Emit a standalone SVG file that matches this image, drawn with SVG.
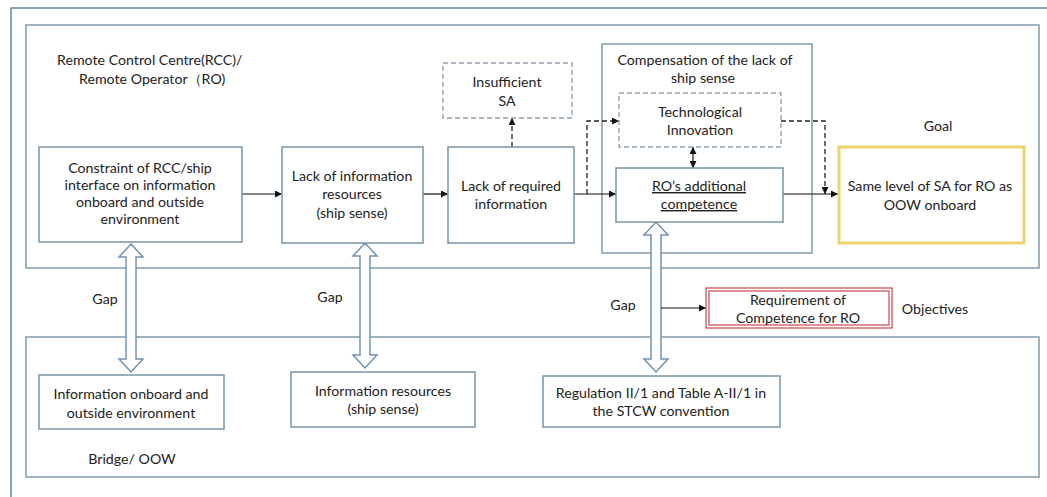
<svg xmlns="http://www.w3.org/2000/svg" width="1047" height="497" viewBox="0 0 1047 497">
  <defs>
    <style>
      .frame { fill: none; stroke: #5f87a8; stroke-width: 1.5; }
      .panel { fill: none; stroke: #7f9aa8; stroke-width: 1.5; }
      .box { fill: #ffffff; stroke: #7894a6; stroke-width: 1.5; }
      .dbox { fill: #ffffff; stroke: #8a9fae; stroke-width: 1.3; stroke-dasharray: 5 3; }
      .goal { fill: #ffffff; stroke: #ecd36a; stroke-width: 3; }
      .req { fill: #ffffff; stroke: #c8464a; stroke-width: 1.2; }
      .t { font-family: Lato, "Liberation Sans", sans-serif; font-size: 14.2px; fill: #222222; text-anchor: middle; }
      .tl { font-family: Lato, "Liberation Sans", sans-serif; font-size: 14.2px; fill: #222222; }
      .line { fill: none; stroke: #111111; stroke-width: 1.2; }
      .dash { fill: none; stroke: #222222; stroke-width: 1.3; stroke-dasharray: 5 3; }
      .block { fill: #ffffff; stroke: #6f93b3; stroke-width: 1.5; stroke-linejoin: miter; }
    </style>
    <marker id="ah" viewBox="0 0 10 10" refX="10" refY="5" markerWidth="7" markerHeight="7" markerUnits="userSpaceOnUse" orient="auto-start-reverse">
      <path d="M0,0 L10,5 L0,10 z" fill="#111111"/>
    </marker>
  </defs>

  <rect width="1047" height="497" fill="#ffffff"/>

  <!-- outer frame and swimlane panels -->
  <rect class="frame" x="11" y="8" width="1060" height="520"/>
  <rect class="panel" x="26" y="25" width="1013" height="243"/>
  <rect class="panel" x="26" y="337" width="1013" height="140"/>
  <rect class="panel" x="602" y="44" width="210" height="209"/>

  <g id="lane-labels">
    <text class="tl" x="57" y="65">Remote Control Centre(RCC)/</text>
    <text class="tl" x="79" y="84">Remote Operator（RO)</text>
    <text class="t" x="132" y="464">Bridge/ OOW</text>
    <text class="t" x="705" y="65">Compensation  of the lack of</text>
    <text class="t" x="703" y="83">ship sense</text>
    <text class="t" x="938" y="131">Goal</text>
    <text class="t" x="935" y="314">Objectives</text>
    <text class="t" x="105" y="304">Gap</text>
    <text class="t" x="330" y="302">Gap</text>
    <text class="t" x="623" y="310">Gap</text>
  </g>

  <!-- hollow gap arrows between the two lanes -->
  <g id="gap-arrows">
    <path class="block" d="M131,244 L143,257 L136,257 L136,359 L143,359 L131,372 L119,359 L126,359 L126,257 L119,257 Z"/>
    <path class="block" d="M365,243 L377,256 L370,256 L370,355 L377,355 L365,368 L353,355 L360,355 L360,256 L353,256 Z"/>
    <path class="block" d="M656,222 L668,235 L661,235 L661,359 L668,359 L656,372 L644,359 L651,359 L651,235 L644,235 Z"/>
  </g>

  <g id="connectors">
    <line class="line" x1="242" y1="194" x2="282" y2="194" marker-end="url(#ah)"/>
    <line class="line" x1="423" y1="194" x2="448" y2="194" marker-end="url(#ah)"/>
    <line class="line" x1="574" y1="194" x2="616" y2="194" marker-end="url(#ah)"/>
    <line class="line" x1="783" y1="194" x2="838" y2="194" marker-end="url(#ah)"/>
    <line class="line" x1="693" y1="147" x2="693" y2="168" marker-start="url(#ah)" marker-end="url(#ah)"/>
    <line class="dash" x1="512" y1="147" x2="512" y2="118" marker-end="url(#ah)"/>
    <polyline class="dash" points="587,194 587,121 619,121" marker-end="url(#ah)"/>
    <polyline class="dash" points="781,121 825,121 825,194" marker-end="url(#ah)"/>
    <line class="line" x1="661" y1="308" x2="706" y2="308" marker-end="url(#ah)"/>
  </g>

  <g id="n-constraint">
    <rect class="box" x="39" y="147" width="203" height="95"/>
    <text class="t" x="140" y="173">Constraint of RCC/ship</text>
    <text class="t" x="140" y="190">interface on information</text>
    <text class="t" x="140" y="207">onboard and outside</text>
    <text class="t" x="140" y="224">environment</text>
  </g>

  <g id="n-lack-resources">
    <rect class="box" x="282" y="147" width="141" height="96"/>
    <text class="t" x="352" y="181">Lack of information</text>
    <text class="t" x="352" y="199">resources</text>
    <text class="t" x="352" y="218">(ship sense)</text>
  </g>

  <g id="n-lack-required">
    <rect class="box" x="448" y="147" width="126" height="96"/>
    <text class="t" x="511" y="191">Lack of required</text>
    <text class="t" x="511" y="209">information</text>
  </g>

  <g id="n-insufficient">
    <rect class="dbox" x="443" y="63" width="129" height="55"/>
    <text class="t" x="507" y="87">Insufficient</text>
    <text class="t" x="507" y="106">SA</text>
  </g>

  <g id="n-tech">
    <rect class="dbox" x="619" y="93" width="162" height="54"/>
    <text class="t" x="700" y="117">Technological</text>
    <text class="t" x="700" y="135">Innovation</text>
  </g>

  <g id="n-competence">
    <rect class="box" x="616" y="168" width="167" height="54"/>
    <text class="t" x="699" y="191" text-decoration="underline">RO’s additional</text>
    <text class="t" x="699" y="209" text-decoration="underline">competence</text>
  </g>

  <g id="n-goal">
    <rect class="goal" x="839" y="147" width="185" height="96"/>
    <text class="t" x="930" y="191">Same level of SA for RO as</text>
    <text class="t" x="930" y="210">OOW onboard</text>
  </g>

  <g id="n-requirement">
    <rect class="req" x="706" y="288" width="186" height="40"/>
    <rect class="req" x="709" y="291" width="180" height="34"/>
    <text class="t" x="798" y="305">Requirement  of</text>
    <text class="t" x="798" y="323">Competence for RO</text>
  </g>

  <g id="n-info-onboard">
    <rect class="box" x="39" y="375" width="185" height="54"/>
    <text class="t" x="131" y="399">Information onboard and</text>
    <text class="t" x="131" y="418">outside environment</text>
  </g>

  <g id="n-info-resources">
    <rect class="box" x="291" y="372" width="184" height="55"/>
    <text class="t" x="383" y="396">Information resources</text>
    <text class="t" x="383" y="414">(ship sense)</text>
  </g>

  <g id="n-stcw">
    <rect class="box" x="543" y="376" width="237" height="51"/>
    <text class="t" x="661" y="398">Regulation II/1 and Table A-II/1 in</text>
    <text class="t" x="661" y="416">the STCW convention</text>
  </g>
</svg>
